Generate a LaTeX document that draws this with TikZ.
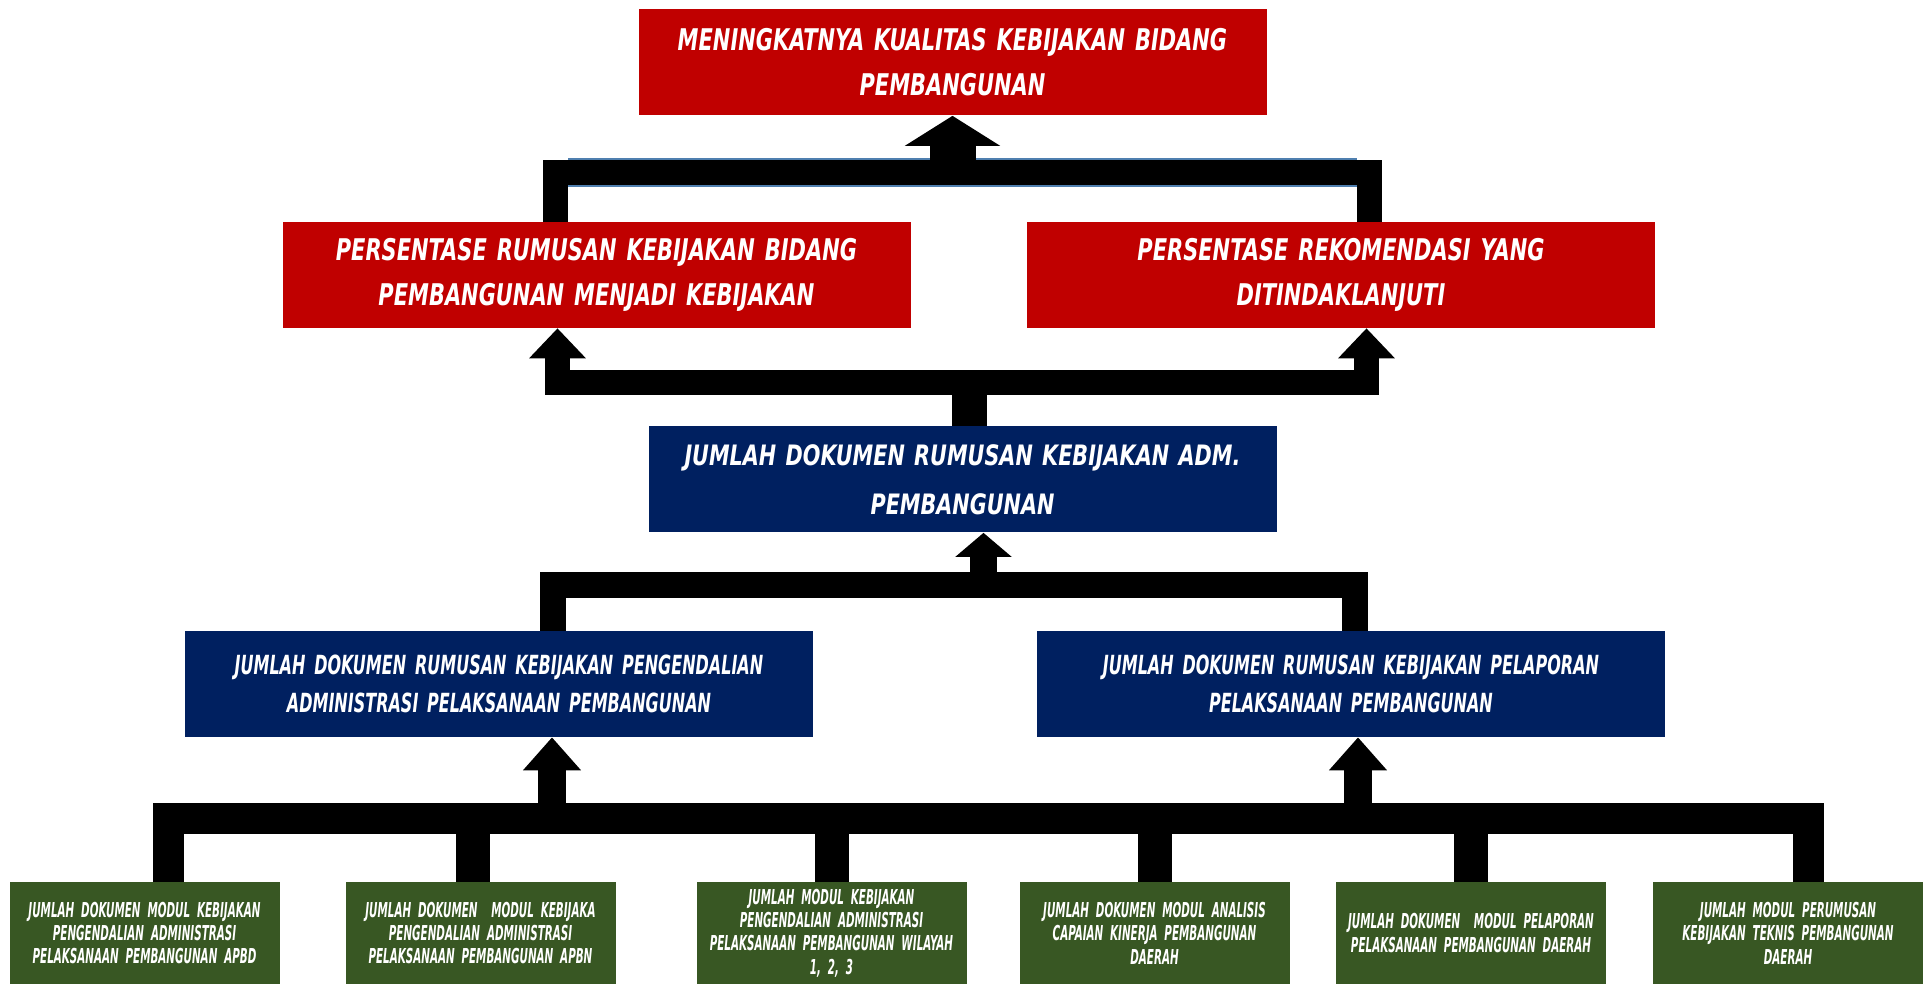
\documentclass[tikz,border=0pt]{standalone}
\usepackage{fontspec}
\usetikzlibrary{arrows.meta, calc}
\newfontfamily\capsfont{DejaVu Sans Condensed Bold Oblique}[FakeStretch=0.78]
\newfontfamily\midfont{DejaVu Sans Condensed Bold Oblique}[FakeStretch=0.82]
\newfontfamily\slimfont{DejaVu Sans Condensed Bold Oblique}[FakeStretch=0.675]
\newfontfamily\tinyfont{DejaVu Sans Condensed Bold Oblique}[FakeStretch=0.56]
\definecolor{goalred}{HTML}{C00000}
\definecolor{docblue}{HTML}{002060}
\definecolor{modgreen}{HTML}{385723}
\definecolor{rimblue}{HTML}{4F7FAF}
\tikzstyle{goalbox} = [rectangle, minimum width=12.56cm, minimum height=2.12cm, text width=12.56cm,
inner sep=0pt, text centered, fill=goalred, text=white, font=\capsfont\fontsize{17}{25.5}\selectfont]
\tikzstyle{docbox} = [goalbox, fill=docblue, font=\midfont\fontsize{16}{28}\selectfont]
\tikzstyle{subbox} = [goalbox, fill=docblue, font=\slimfont\fontsize{15}{21.5}\selectfont]
\tikzstyle{modbox} = [rectangle, minimum width=5.4cm, minimum height=2.04cm, text width=5.4cm,
inner sep=0pt, text centered, fill=modgreen, text=white, font=\tinyfont\fontsize{11.7}{13.3}\selectfont]
\tikzstyle{link} = [line width=0.5cm, line join=miter, line cap=butt]
\tikzstyle{arrow} = [line width=0.54cm, -{Triangle[width=1.1cm, length=0.6cm]}]

\begin{document}
\begin{tikzpicture}
  \useasboundingbox (0,0) rectangle (38.52,19.68);

  \node (goal) [goalbox] at (19.05,18.43) {MENINGKATNYA KUALITAS KEBIJAKAN BIDANG\\PEMBANGUNAN};
  \node (kpi1) [goalbox] at (11.93,14.18) {PERSENTASE RUMUSAN KEBIJAKAN BIDANG\\PEMBANGUNAN MENJADI KEBIJAKAN};
  \node (kpi2) [goalbox] at (26.82,14.18) {PERSENTASE REKOMENDASI YANG\\DITINDAKLANJUTI};
  \node (doc) [docbox] at (19.25,10.09) {JUMLAH DOKUMEN RUMUSAN KEBIJAKAN ADM.\\PEMBANGUNAN};
  \node (doc1) [subbox] at (9.98,6.0) {JUMLAH DOKUMEN RUMUSAN KEBIJAKAN PENGENDALIAN\\ADMINISTRASI PELAKSANAAN PEMBANGUNAN};
  \node (doc2) [subbox] at (27.02,6.0) {JUMLAH DOKUMEN RUMUSAN KEBIJAKAN PELAPORAN\\PELAKSANAAN PEMBANGUNAN};

  \node (mod1) [modbox] at (2.89,1.02) {JUMLAH DOKUMEN MODUL KEBIJAKAN\\PENGENDALIAN ADMINISTRASI\\PELAKSANAAN PEMBANGUNAN APBD};
  \node (mod2) [modbox] at (9.61,1.02) {JUMLAH DOKUMEN\ \ MODUL KEBIJAKA\\PENGENDALIAN ADMINISTRASI\\PELAKSANAAN PEMBANGUNAN APBN};
  \node (mod3) [modbox] at (16.63,1.02) {JUMLAH MODUL KEBIJAKAN\\PENGENDALIAN ADMINISTRASI\\PELAKSANAAN PEMBANGUNAN WILAYAH\\1, 2, 3};
  \node (mod4) [modbox] at (23.09,1.02) {JUMLAH DOKUMEN MODUL ANALISIS\\CAPAIAN KINERJA PEMBANGUNAN\\DAERAH};
  \node (mod5) [modbox] at (29.42,1.02) {JUMLAH DOKUMEN\ \ MODUL PELAPORAN\\PELAKSANAAN PEMBANGUNAN DAERAH};
  \node (mod6) [modbox] at (35.76,1.02) {JUMLAH MODUL PERUMUSAN\\KEBIJAKAN TEKNIS PEMBANGUNAN\\DAERAH};

  \coordinate (forkA) at (19.05,16.23);
  \coordinate (forkB) at (19.39,12.02);
  \coordinate (forkC) at (19.67,7.98);
  \coordinate (forkD) at (19.0,3.3);

  % top level
  \draw [line width=0.58cm, rimblue] ([xshift=-0.57cm]kpi1.north |- forkA) -- ([xshift=0.31cm]kpi2.north |- forkA);
  \draw [link] ([xshift=-0.82cm]kpi1.north) |- (forkA) -| ([xshift=0.56cm]kpi2.north);
  \draw [arrow, line width=0.92cm, -{Triangle[width=1.88cm, length=0.6cm]}] (goal.south |- forkA) -- (goal.south);

  % second level
  \draw [link, line width=0.7cm] ([xshift=0.14cm]doc.north) -- ([xshift=0.14cm]doc.north |- forkB);
  \draw [link, {Triangle[width=1.1cm, length=0.6cm]}-{Triangle[width=1.1cm, length=0.6cm]}] ([xshift=-0.78cm]kpi1.south) |- (forkB) -| ([xshift=0.51cm]kpi2.south);

  % third level
  \draw [link, line width=0.52cm] ([xshift=1.07cm]doc1.north) |- (forkC) -| ([xshift=0.07cm]doc2.north);
  \draw [arrow, -{Triangle[width=1.1cm, length=0.48cm]}] ([xshift=0.42cm]doc.south |- forkC) -- ([xshift=0.42cm]doc.south);

  % bottom level
  \draw [link, line width=0.62cm] ([xshift=0.48cm]mod1.north) |- (forkD) -| ([xshift=0.4cm]mod6.north);
  \draw [link, line width=0.68cm] ([xshift=-0.16cm]mod2.north) -- ([xshift=-0.16cm]mod2.north |- forkD);
  \draw [link, line width=0.68cm] (mod3.north) -- (mod3.north |- forkD);
  \draw [link, line width=0.68cm] (mod4.north) -- (mod4.north |- forkD);
  \draw [link, line width=0.68cm] (mod5.north) -- (mod5.north |- forkD);
  \draw [arrow, line width=0.56cm, -{Triangle[width=1.12cm, length=0.66cm]}] ([xshift=1.06cm]doc1.south |- forkD) -- ([xshift=1.06cm]doc1.south);
  \draw [arrow, line width=0.56cm, -{Triangle[width=1.12cm, length=0.66cm]}] ([xshift=0.14cm]doc2.south |- forkD) -- ([xshift=0.14cm]doc2.south);
\end{tikzpicture}
\end{document}
